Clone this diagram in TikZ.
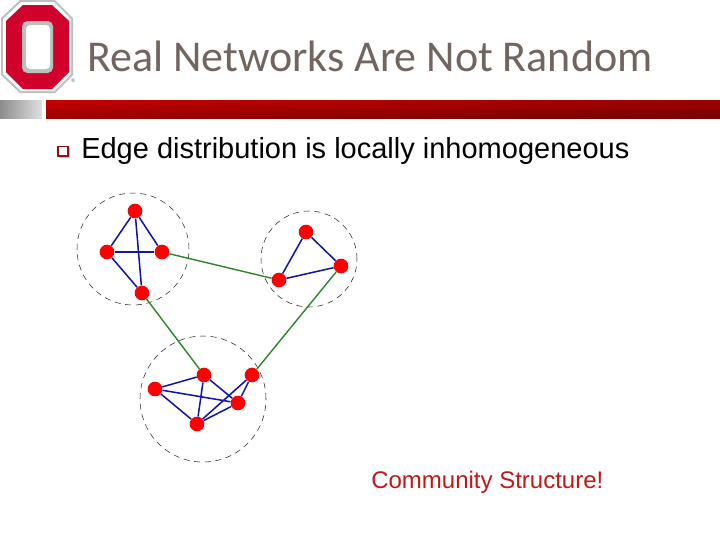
\documentclass[tikz,border=0pt]{standalone}
\usepackage{fontspec}
\setmainfont{Liberation Sans}
\newfontfamily\titlefont{Carlito}
\usetikzlibrary{positioning, shadings}

\definecolor{logored}{HTML}{D0022B}
\definecolor{logogray}{HTML}{BCC0BC}
\definecolor{titlegray}{HTML}{72655F}
\definecolor{edgeblue}{HTML}{1414A8}
\definecolor{edgegreen}{HTML}{2A862A}
\definecolor{barul}{HTML}{C80000}
\definecolor{barll}{HTML}{980000}
\definecolor{barur}{HTML}{A00000}
\definecolor{barlr}{HTML}{700000}
\definecolor{bulletred}{HTML}{8C1414}
\definecolor{notered}{HTML}{C01818}

\begin{document}
\begin{tikzpicture}[x=0.75pt, y=-0.75pt,
    dot/.style={circle, fill=red, inner sep=0pt, minimum size=11pt},
    group/.style={circle, draw=black!85, line width=0.4pt, dash pattern=on 4.5pt off 3.5pt, inner sep=0pt},
    inner/.style={draw=edgeblue, line width=1.15pt},
    outer/.style={draw=edgegreen, line width=1.05pt}]

    \useasboundingbox (0,0) rectangle (720,540);

    % logo
    \fill[logogray] (20,0) -- (55,0) -- (73,18) -- (73,75) -- (55,93) -- (20,93) -- (1,75) -- (1,18) -- cycle;
    \fill[white] (21,2) -- (54,2) -- (71,19) -- (71,74) -- (54,91) -- (21,91) -- (3,74) -- (3,19) -- cycle;
    \fill[logored] (23,5) -- (52,5) -- (69,21) -- (69,72) -- (52,89) -- (23,89) -- (6,72) -- (6,21) -- cycle;
    \fill[logogray, rounded corners=4pt] (22,21) rectangle (53,73);
    \fill[white, rounded corners=3pt] (26,25) rectangle (50,69);
    \node[font=\fontsize{4}{4}\selectfont, text=black!60, inner sep=0pt] (mark) at (73,81) {®};

    % title bar
    \shade[left color=black!45, right color=black!12] (0,100) rectangle (42,118.5);
    \shade[upper left=barul, lower left=barll, upper right=barur, lower right=barlr] (46,100) rectangle (720,118.5);

    \node[font=\titlefont\fontsize{33}{36}\selectfont, text=titlegray, anchor=base west, inner sep=0pt] (title) at (87,71) {Real Networks Are Not Random};

    \fill[black!25] (59,148) rectangle (70,158);
    \draw[draw=bulletred, fill=white, line width=0.8pt] (58,146.5) rectangle (68,156);
    \node[font=\fontsize{21.75}{24}\selectfont, anchor=base west, inner sep=0pt] (edgetext) at (81,158) {Edge distribution is locally inhomogeneous};

    % groups
    \node[group, minimum size=84pt] (groupa) at (133,249) {};
    \node[group, minimum size=72pt] (groupb) at (309,259) {};
    \node[group, minimum size=94.5pt] (groupc) at (203,399) {};

    \node[dot] (a1) at (135,211) {};
    \node[dot] (a2) at (107,252) {};
    \node[dot] (a3) at (162,252) {};
    \node[dot] (a4) at (142,293) {};

    \node[dot] (b1) at (306,232) {};
    \node[dot] (b2) at (341,266) {};
    \node[dot] (b3) at (279,280) {};

    \node[dot] (c1) at (204,375) {};
    \node[dot] (c2) at (155,389) {};
    \node[dot] (c3) at (252,375) {};
    \node[dot] (c4) at (238,403) {};
    \node[dot] (c5) at (197,424) {};

    \draw[inner] (a1) -- (a2);
    \draw[inner] (a1) -- (a3);
    \draw[inner] (a1) -- (a4);
    \draw[inner] (a2) -- (a3);
    \draw[inner] (a2) -- (a4);

    \draw[inner] (b1) -- (b2);
    \draw[inner] (b1) -- (b3);
    \draw[inner] (b2) -- (b3);

    \draw[inner] (c1) -- (c2);
    \draw[inner] (c1) -- (c4);
    \draw[inner] (c1) -- (c5);
    \draw[inner] (c2) -- (c4);
    \draw[inner] (c2) -- (c5);
    \draw[inner] (c3) -- (c4);
    \draw[inner] (c3) -- (c5);
    \draw[inner] (c4) -- (c5);

    \draw[outer] (a3) -- (b3);
    \draw[outer] (a4) -- (c1);
    \draw[outer] (b2) -- (c3);

    \node[font=\fontsize{18}{20}\selectfont, text=notered, anchor=base west, inner sep=0pt] (community) at (371,488) {Community Structure!};
\end{tikzpicture}
\end{document}
